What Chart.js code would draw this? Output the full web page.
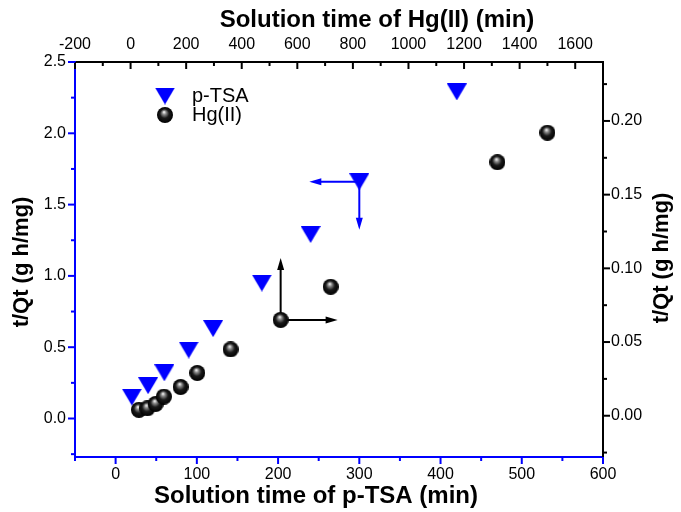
<!DOCTYPE html>
<html>
<head>
<meta charset="utf-8">
<script src="https://cdn.jsdelivr.net/npm/chart.js@4/dist/chart.umd.min.js"></script>
<style>
    html, body { margin: 0; padding: 0; background: #fff; }
    #wrap { width: 681px; height: 512px; position: relative; }
</style>
</head>
<body>
<div id="wrap"><canvas id="chart" width="681" height="512"></canvas></div>
<script>
// p-TSA: bottom / left axes
const tsaTime = [20, 40, 60, 90, 120, 180, 240, 300, 420];
const tsaTQ = [0.15, 0.23, 0.32, 0.48, 0.63, 0.95, 1.29, 1.66, 2.29];

// Hg(II): top / right axes
const hgTime = [30, 60, 90, 120, 180, 240, 360, 540, 720, 1320, 1500];
const hgTQ = [0.004, 0.005, 0.008, 0.013, 0.0195, 0.029, 0.045, 0.065, 0.0875, 0.172, 0.192];

// tick labels
const bottomTicks = [0, 100, 200, 300, 400, 500, 600];
const topTicks = [-200, 0, 200, 400, 600, 800, 1000, 1200, 1400, 1600];
const leftTicks = [0, 0.5, 1.0, 1.5, 2.0, 2.5];
const rightTicks = [0, 0.05, 0.10, 0.15, 0.20];

const FONT = "'Liberation Sans', Arial, sans-serif";
const BLUE = '#0000ff';

// 구슬 모양 마커
function makeSphere(d) {
    const c = document.createElement('canvas');
    c.width = c.height = d;
    const g = c.getContext('2d');
    const r = d / 2;
    const grad = g.createRadialGradient(r - 1, r - 3, 0.3, r, r, r);
    grad.addColorStop(0, '#f4f4f4');
    grad.addColorStop(0.22, '#8a8a8a');
    grad.addColorStop(0.55, '#1a1a1a');
    grad.addColorStop(1, '#000');
    g.fillStyle = grad;
    g.beginPath();
    g.arc(r, r, r, 0, Math.PI * 2);
    g.fill();
    return c;
}

// 아래로 향한 삼각형 마커
function makeTriangle(w, h) {
    const c = document.createElement('canvas');
    c.width = w;
    c.height = h;
    const g = c.getContext('2d');
    g.fillStyle = BLUE;
    g.beginPath();
    g.moveTo(0, 0);
    g.lineTo(w, 0);
    g.lineTo(w / 2, h);
    g.closePath();
    g.fill();
    return c;
}

const sphereImg = makeSphere(16);
const triImg = makeTriangle(20, 17);

function setTicks(arr) {
    return (scale) => { scale.ticks = arr.map(v => ({ value: v })); };
}

function axis(opts) {
    return {
        type: 'linear',
        position: opts.position,
        min: opts.min,
        max: opts.max,
        afterBuildTicks: setTicks(opts.ticks),
        afterFit: (s) => {
            if (opts.width) s.width = opts.width;
            if (opts.height) s.height = opts.height;
        },
        grid: { display: false, drawTicks: false, drawOnChartArea: false },
        border: { display: true, color: opts.color, width: 2 },
        title: { display: false },
        ticks: {
            autoSkip: false,
            maxRotation: 0,
            minRotation: 0,
            padding: opts.padding,
            color: '#000',
            font: { family: FONT, size: 16 },
            callback: opts.fmt
        }
    };
}

// 눈금 표시 (주/보조)
const tickMarks = {
    id: 'tickMarks',
    afterDraw(chart) {
        const ctx = chart.ctx;
        const defs = [
            { id: 'x', ticks: bottomTicks, dir: 1, horiz: true, color: BLUE },
            { id: 'x2', ticks: topTicks, dir: 1, horiz: true, color: '#000' },
            { id: 'y', ticks: leftTicks, dir: -1, horiz: false, color: BLUE },
            { id: 'y2', ticks: rightTicks, dir: 1, horiz: false, color: '#000' }
        ];
        ctx.save();
        ctx.lineWidth = 2;
        defs.forEach(d => {
            const s = chart.scales[d.id];
            const step = d.ticks[1] - d.ticks[0];
            const marks = [];
            d.ticks.forEach(v => marks.push([v, 7]));
            for (let v = d.ticks[0] - step / 2; v <= s.max + 1e-9; v += step) {
                if (v >= s.min - 1e-9) marks.push([v, 4]);
            }
            ctx.strokeStyle = d.color;
            marks.forEach(([v, len]) => {
                const p = s.getPixelForValue(v);
                ctx.beginPath();
                if (d.horiz) {
                    const y0 = d.id === 'x' ? s.top : s.bottom;
                    ctx.moveTo(p, y0);
                    ctx.lineTo(p, y0 + len);
                } else {
                    const x0 = d.id === 'y' ? s.right : s.left;
                    ctx.moveTo(x0, p);
                    ctx.lineTo(x0 + d.dir * len, p);
                }
                ctx.stroke();
            });
        });
        ctx.restore();
    }
};

// 축 제목, 범례, 화살표
function arrow(ctx, x0, y0, x1, y1, color) {
    const a = Math.atan2(y1 - y0, x1 - x0);
    ctx.strokeStyle = color;
    ctx.fillStyle = color;
    ctx.lineWidth = 2;
    ctx.beginPath();
    ctx.moveTo(x0, y0);
    ctx.lineTo(x1 - 8 * Math.cos(a), y1 - 8 * Math.sin(a));
    ctx.stroke();
    ctx.beginPath();
    ctx.moveTo(x1, y1);
    ctx.lineTo(x1 - 12 * Math.cos(a) + 3.5 * Math.sin(a), y1 - 12 * Math.sin(a) - 3.5 * Math.cos(a));
    ctx.lineTo(x1 - 12 * Math.cos(a) - 3.5 * Math.sin(a), y1 - 12 * Math.sin(a) + 3.5 * Math.cos(a));
    ctx.closePath();
    ctx.fill();
}

const decorations = {
    id: 'decorations',
    beforeDatasetsDraw(chart) {
        const ctx = chart.ctx;
        const s = chart.scales;
        ctx.save();
        // p-TSA -> left / bottom
        const tx = s.x.getPixelForValue(tsaTime[7]);
        const ty = s.y.getPixelForValue(tsaTQ[7]);
        arrow(ctx, tx, ty, tx - 50, ty, BLUE);
        arrow(ctx, tx, ty, tx, ty + 48, BLUE);
        // Hg(II) -> top / right
        const hx = s.x2.getPixelForValue(hgTime[7]);
        const hy = s.y2.getPixelForValue(hgTQ[7]);
        arrow(ctx, hx, hy, hx, hy - 62, '#000');
        arrow(ctx, hx, hy, hx + 57, hy, '#000');
        ctx.restore();
    },
    afterDraw(chart) {
        const ctx = chart.ctx;
        ctx.save();
        ctx.fillStyle = '#000';
        ctx.textAlign = 'center';
        ctx.textBaseline = 'middle';
        ctx.font = 'bold 24px ' + FONT;
        ctx.fillText('Solution time of Hg(II) (min)', 377, 20);
        ctx.fillText('Solution time of p-TSA (min)', 316, 496);

        ctx.font = 'bold 22px ' + FONT;
        ctx.save();
        ctx.translate(22, 262);
        ctx.rotate(-Math.PI / 2);
        ctx.fillText('t/Qt (g h/mg)', 0, 0);
        ctx.restore();
        ctx.save();
        ctx.translate(662, 258);
        ctx.rotate(-Math.PI / 2);
        ctx.fillText('t/Qt (g h/mg)', 0, 0);
        ctx.restore();

        // legend
        ctx.drawImage(triImg, 165 - 10, 96 - 8.5);
        ctx.drawImage(sphereImg, 165 - 8, 115 - 8);
        ctx.textAlign = 'left';
        ctx.font = '20px ' + FONT;
        ctx.fillText('p-TSA', 192, 96);
        ctx.fillText('Hg(II)', 192, 115);
        ctx.restore();
    }
};

const ctx = document.getElementById('chart').getContext('2d');
new Chart(ctx, {
    type: 'scatter',
    data: {
        datasets: [
            {
                label: 'Hg(II)',
                data: hgTime.map((t, i) => ({ x: t, y: hgTQ[i] })),
                xAxisID: 'x2',
                yAxisID: 'y2',
                pointStyle: sphereImg,
                order: 0
            },
            {
                label: 'p-TSA',
                data: tsaTime.map((t, i) => ({ x: t, y: tsaTQ[i] })),
                xAxisID: 'x',
                yAxisID: 'y',
                pointStyle: triImg,
                order: 1
            }
        ]
    },
    options: {
        responsive: false,
        animation: false,
        layout: { padding: 0 },
        plugins: { legend: { display: false }, tooltip: { enabled: false } },
        scales: {
            x: axis({ position: 'bottom', min: -50, max: 600, ticks: bottomTicks, height: 55, padding: 8, color: BLUE, fmt: v => String(v) }),
            x2: axis({ position: 'top', min: -200, max: 1700, ticks: topTicks, height: 62, padding: 8, color: '#000', fmt: v => String(v) }),
            y: axis({ position: 'left', min: -0.27, max: 2.5, ticks: leftTicks, width: 75, padding: 9, color: BLUE, fmt: v => v.toFixed(1) }),
            y2: axis({ position: 'right', min: -0.028, max: 0.24, ticks: rightTicks, width: 78, padding: 8, color: '#000', fmt: v => v.toFixed(2) })
        }
    },
    plugins: [tickMarks, decorations]
});
</script>
</body>
</html>
